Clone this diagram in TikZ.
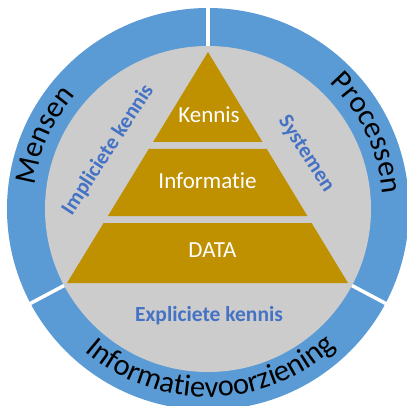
\documentclass[tikz,border=0pt]{standalone}
\usepackage{fontspec}
\setmainfont{Carlito}[Ligatures={NoCommon}]
\usetikzlibrary{decorations.text}
\definecolor{ringblue}{RGB}{91,155,213}
\definecolor{discgray}{RGB}{204,204,204}
\definecolor{pyrgold}{RGB}{191,144,0}
\definecolor{labelblue}{RGB}{68,114,196}
\newcommand\ringfont{\fontsize{30.5}{36}\selectfont}
\begin{document}
\begin{tikzpicture}[x=1pt,y=1pt,
  layer/.style={fill=pyrgold},
  pyrtext/.style={text=white,font=\fontsize{23}{27}\selectfont,anchor=base,inner sep=0pt},
  sidetext/.style={text=labelblue,font=\bfseries\fontsize{21.5}{25}\selectfont,inner sep=0pt},
  ringtext/.style={decorate,decoration={text along path,text align=center,text color=black,text={|\ringfont|#1}}}]
\useasboundingbox (0,0) rectangle (407,405);
\clip (0,0) rectangle (407,405);
\coordinate (C) at (208,196);
% ring
\fill[ringblue] (C) circle[radius=201pt];
\foreach \a in {90,208,-28}
  \draw[white,line width=3.5pt] ([shift={(\a:158pt)}]C) -- ([shift={(\a:215pt)}]C);
\fill[discgray] (C) circle[radius=163pt];
% pyramid
\fill[layer] (208,353) -- (153.1,263) -- (262.5,263) -- cycle;
\fill[layer] (148.8,256) -- (266.8,256) -- (307.4,189) -- (107.9,189) -- cycle;
\fill[layer] (103.6,182) -- (311.6,182) -- (348,122) -- (67,122) -- cycle;
\node[pyrtext] (kennis) at (209,282) {Kennis};
\node[pyrtext] (informatie) at (207.5,216) {Informatie};
\node[pyrtext] (data) at (212.5,148) {DATA};
% inner labels
\node[sidetext,rotate=57] (impl) at (108,255) {Impliciete kennis};
\node[sidetext,rotate=-57] (sys) at (306,251) {Systemen};
\node[sidetext,anchor=base] (expl) at (209,84) {Expliciete kennis};
% ring labels
\path[ringtext=Mensen] ([shift={(195.75:175pt)}]C) arc[start angle=195.75,end angle=115.75,radius=175pt];
\path[ringtext=Processen] ([shift={(70:175pt)}]C) arc[start angle=70,end angle=-19,radius=175pt];
\path[ringtext=Informatievoorziening] ([shift={(196:188pt)}]C) arc[start angle=196,end angle=346,radius=188pt];
\end{tikzpicture}
\end{document}
